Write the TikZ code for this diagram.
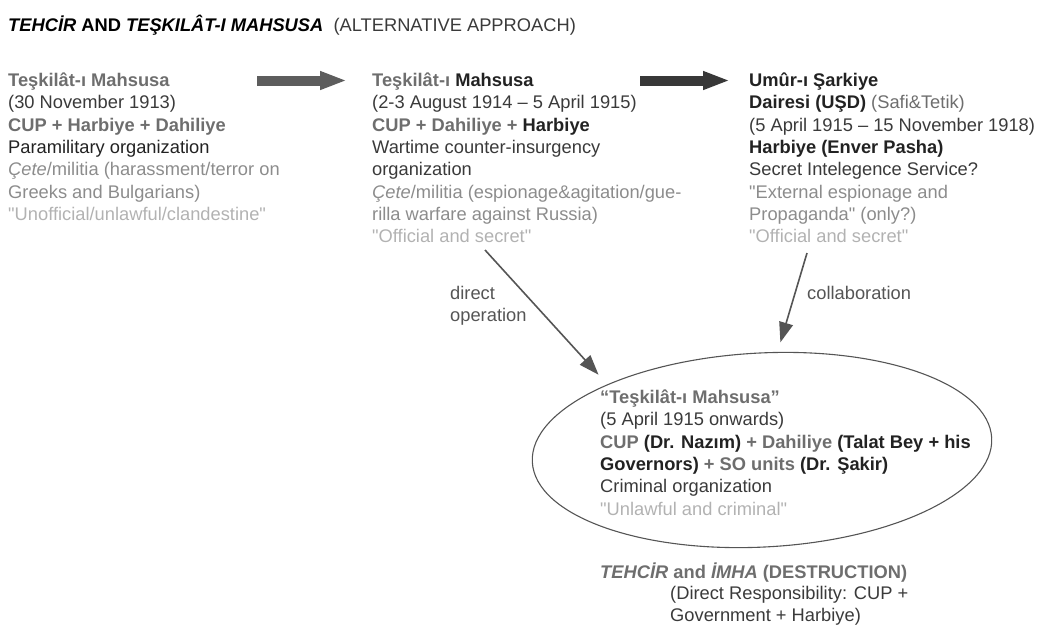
\documentclass[tikz,border=0pt]{standalone}
\usepackage{fontspec}
\setmainfont{Liberation Sans}[Ligatures=TeXOff]
\usetikzlibrary{arrows.meta,shapes.geometric}

\definecolor{tmblack}{HTML}{222222}
\definecolor{tmdark}{HTML}{3A3A3A}
\definecolor{tmgray}{HTML}{6E6E6E}
\definecolor{tmlight}{HTML}{8C8C8C}
\definecolor{tmpale}{HTML}{B2B2B2}
\definecolor{tmline}{HTML}{555555}

\newcommand{\gb}[1]{\textcolor{tmgray}{\bfseries #1}}
\newcommand{\bk}[1]{\textcolor{tmblack}{\bfseries #1}}
\newcommand{\dk}[1]{\textcolor{tmdark}{#1}}
\newcommand{\lt}[1]{\textcolor{tmlight}{#1}}
\newcommand{\pl}[1]{\textcolor{tmpale}{#1}}

\begin{document}
\begin{tikzpicture}[x=1pt,y=1pt,
    blk/.style={anchor=base west,align=left,inner sep=0pt,
        font=\fontsize{18.3}{22.3}\selectfont},
    lbl/.style={blk,text=tmline},
    bigarr/.style={line width=10pt,-{Triangle[length=27pt,width=17pt]}},
    linkarr/.style={draw=tmline,line width=1.6pt,
        -{Triangle[length=20pt,width=14pt]}}]

\useasboundingbox (0,0) rectangle (1043,-625);

% title
\node[blk] (title) at (8,-31.5) {\textbf{\textit{TEHCİR} AND \textit{TEŞKILÂT-I MAHSUSA}}\ \ \textcolor{tmdark}{(ALTERNATIVE APPROACH)}};

% the three stages (base = last line)
\node[blk] (lft) at (8,-220.3) {\gb{Teşkilât-ı Mahsusa}\\
  \dk{(30 November 1913)}\\
  \gb{CUP + Harbiye + Dahiliye}\\
  \textcolor{tmblack}{Paramilitary organization}\\
  \lt{\textit{Çete}/militia (harassment/terror on}\\
  \lt{Greeks and Bulgarians)}\\
  \pl{"Unofficial/unlawful/clandestine"}};

\node[blk] (mid) at (372,-242.6) {\gb{Teşkilât-ı} \bk{Mahsusa}\\
  \dk{(2-3 August 1914 – 5 April 1915)}\\
  \gb{CUP + Dahiliye +} \bk{Harbiye}\\
  \dk{Wartime counter-insurgency}\\
  \dk{organization}\\
  \lt{\textit{Çete}/militia (espionage\&agitation/gue-}\\
  \lt{rilla warfare against Russia)}\\
  \pl{"Official and secret"}};

\node[blk] (rgt) at (749,-242.6) {\bk{Umûr-ı Şarkiye}\\
  \bk{Dairesi (UŞD)} \textcolor{tmgray}{(Safi\&Tetik)}\\
  \dk{(5 April 1915 – 15 November 1918)}\\
  \bk{Harbiye (Enver Pasha)}\\
  \dk{Secret Intelegence Service?}\\
  \lt{"External espionage and}\\
  \lt{Propaganda" (only?)}\\
  \pl{"Official and secret"}};

% the special organization after april 1915
\node[ellipse,draw=tmline,line width=1.1pt,rotate=3,
      minimum width=460pt,minimum height=194pt,inner sep=0pt] (so) at (762,-450) {};
\node[blk] (sotext) at (600,-515) {\gb{“Teşkilât-ı Mahsusa”}\\
  \dk{(5 April 1915 onwards)}\\
  \gb{CUP} \bk{(Dr. Nazım)} \gb{+ Dahiliye} \bk{(Talat Bey + his}\\
  \bk{Governors)} \gb{+ SO units} \bk{(Dr. Şakir)}\\
  \dk{Criminal organization}\\
  \pl{"Unlawful and criminal"}};

\node[blk] (tehcir) at (600,-578.5) {\gb{\itshape TEHCİR} \gb{and} \gb{\itshape İMHA} \gb{(DESTRUCTION)}};
\node[blk] (resp) at (670,-621.8) {\dk{(Direct Responsibility: CUP +}\\
  \dk{Government + Harbiye)}};

% block arrows
\coordinate (ar1) at (257,-80.5);
\coordinate (ar2) at (640,-80.5);
\draw[bigarr,draw=tmgray!85!black] (ar1) -- (ar1 -| mid.west) [shorten >=25pt];
\draw[bigarr,draw=tmblack!90] (ar2) -- (ar2 -| rgt.west) [shorten >=19pt];

% links to the ellipse
\coordinate (dop) at (485,-250);
\coordinate (col) at (807,-253);
\draw[linkarr] (dop) -- (so.154) [shorten >=13pt];
\draw[linkarr] (col) -- (so.78) [shorten >=10pt];
\node[lbl] (dopl) at (450,-321.8) {direct\\operation};
\node[lbl] (coll) at (807,-299.5) {collaboration};

\end{tikzpicture}
\end{document}
